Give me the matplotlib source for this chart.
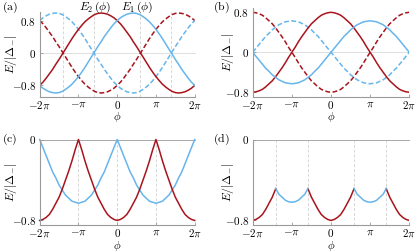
import matplotlib
matplotlib.use("Agg")
import matplotlib.pyplot as plt
import numpy as np

plt.rcParams["mathtext.fontset"] = "cm"
plt.rcParams["font.family"] = ["DejaVu Serif"]

# ---------------- data (phi in units of pi) ----------------
phi_grid = np.linspace(-2, 2, 49)

# panel (a): E1, E2 (solid); dashed are the mirrored branches
red_a = [-0.81, -0.73, -0.63, -0.52, -0.41, -0.28, -0.16, -0.03, 0.10, 0.23,
         0.36, 0.48, 0.59, 0.69, 0.78, 0.85, 0.91, 0.96, 0.99, 1.00,
         0.99, 0.97, 0.93, 0.88, 0.81, 0.73, 0.63, 0.52, 0.41, 0.28,
         0.16, 0.03, -0.10, -0.23, -0.36, -0.48, -0.59, -0.69, -0.78, -0.85,
         -0.91, -0.96, -0.99, -1.00, -0.99, -0.97, -0.93, -0.88, -0.81]
blue_a = [-0.81, -0.88, -0.93, -0.97, -0.99, -1.00, -0.99, -0.96, -0.91, -0.85,
          -0.78, -0.69, -0.59, -0.48, -0.36, -0.23, -0.10, 0.03, 0.16, 0.28,
          0.41, 0.52, 0.63, 0.73, 0.81, 0.88, 0.93, 0.97, 0.99, 1.00,
          0.99, 0.96, 0.91, 0.85, 0.78, 0.69, 0.59, 0.48, 0.36, 0.23,
          0.10, -0.03, -0.16, -0.28, -0.41, -0.52, -0.63, -0.73, -0.81]

# panel (b)
red_b = [-0.80, -0.79, -0.77, -0.74, -0.69, -0.63, -0.57, -0.49, -0.40, -0.31,
         -0.21, -0.10, 0.00, 0.10, 0.21, 0.31, 0.40, 0.49, 0.57, 0.63,
         0.69, 0.74, 0.77, 0.79, 0.80, 0.79, 0.77, 0.74, 0.69, 0.63,
         0.57, 0.49, 0.40, 0.31, 0.21, 0.10, 0.00, -0.10, -0.21, -0.31,
         -0.40, -0.49, -0.57, -0.63, -0.69, -0.74, -0.77, -0.79, -0.80]
blue_b = [0.00, -0.08, -0.16, -0.24, -0.32, -0.38, -0.45, -0.50, -0.55, -0.58,
          -0.61, -0.62, -0.63, -0.62, -0.61, -0.58, -0.55, -0.50, -0.45, -0.38,
          -0.32, -0.24, -0.16, -0.08, 0.00, 0.08, 0.16, 0.24, 0.32, 0.38,
          0.45, 0.50, 0.55, 0.58, 0.61, 0.62, 0.63, 0.62, 0.61, 0.58,
          0.55, 0.50, 0.45, 0.38, 0.32, 0.24, 0.16, 0.08, 0.00]

# panel (c)
red_c = [-0.80, -0.79, -0.77, -0.74, -0.69, -0.63, -0.57, -0.49, -0.40, -0.31,
         -0.21, -0.10, 0.00, -0.10, -0.21, -0.31, -0.40, -0.49, -0.57, -0.63,
         -0.69, -0.74, -0.77, -0.79, -0.80, -0.79, -0.77, -0.74, -0.69, -0.63,
         -0.57, -0.49, -0.40, -0.31, -0.21, -0.10, 0.00, -0.10, -0.21, -0.31,
         -0.40, -0.49, -0.57, -0.63, -0.69, -0.74, -0.77, -0.79, -0.80]
blue_c = [0.00, -0.08, -0.16, -0.24, -0.32, -0.38, -0.45, -0.50, -0.55, -0.58,
          -0.61, -0.62, -0.63, -0.62, -0.61, -0.58, -0.55, -0.50, -0.45, -0.38,
          -0.32, -0.24, -0.16, -0.08, 0.00, -0.08, -0.16, -0.24, -0.32, -0.38,
          -0.45, -0.50, -0.55, -0.58, -0.61, -0.62, -0.63, -0.62, -0.61, -0.58,
          -0.55, -0.50, -0.45, -0.38, -0.32, -0.24, -0.16, -0.08, 0.00]

# panel (d): lower branch, split into red / blue pieces
d_red_phi = [[-2.0, -23/12, -22/12, -21/12, -20/12, -19/12, -18/12, -1.41],
             [-0.59, -6/12, -5/12, -4/12, -3/12, -2/12, -1/12, 0.0,
              1/12, 2/12, 3/12, 4/12, 5/12, 6/12, 0.59],
             [1.41, 18/12, 19/12, 20/12, 21/12, 22/12, 23/12, 2.0]]
d_red_val = [[-0.80, -0.79, -0.77, -0.74, -0.69, -0.63, -0.57, -0.485],
             [-0.485, -0.57, -0.63, -0.69, -0.74, -0.77, -0.79, -0.80,
              -0.79, -0.77, -0.74, -0.69, -0.63, -0.57, -0.485],
             [-0.485, -0.57, -0.63, -0.69, -0.74, -0.77, -0.79, -0.80]]
d_blue_phi = [[-1.41, -16/12, -15/12, -14/12, -13/12, -1.0, -11/12, -10/12, -9/12, -8/12, -0.59],
              [0.59, 8/12, 9/12, 10/12, 11/12, 1.0, 13/12, 14/12, 15/12, 16/12, 1.41]]
d_blue_val = [[-0.485, -0.54, -0.57, -0.60, -0.615, -0.62, -0.615, -0.60, -0.57, -0.54, -0.485],
              [-0.485, -0.54, -0.57, -0.60, -0.615, -0.62, -0.615, -0.60, -0.57, -0.54, -0.485]]

x_ticks = [-2, -1, 0, 1, 2]
x_ticklabels = [r"$-2\pi$", r"$-\pi$", r"$0$", r"$\pi$", r"$2\pi$"]
grid_a = [-1.4, -0.6, 0.6, 1.4]
grid_c = [-1.0, 0.0, 1.0]
grid_d = [-1.41, -0.59, 0.59, 1.41]

RED = "#a8141c"
BLUE = "#66b5ec"
SPINE = "#9a9a9a"
DASH = (0, (3.2, 1.6))

W, H = 415, 252
fig = plt.figure(figsize=(W / 100, H / 100), dpi=100)


def add_ax(l, r, t, b):
    return fig.add_axes([l / W, 1 - b / H, (r - l) / W, (b - t) / H])


def style(ax, ylim, yticks, yticklabels, zero_col):
    ax.set_xlim(-2, 2)
    ax.set_ylim(*ylim)
    for s in ("top", "right"):
        ax.spines[s].set_visible(False)
    for s in ("left", "bottom"):
        ax.spines[s].set_color(SPINE)
        ax.spines[s].set_linewidth(0.8)
    ax.set_xticks(x_ticks)
    ax.set_xticklabels(x_ticklabels)
    ax.set_yticks(yticks)
    ax.set_yticklabels(yticklabels)
    ax.tick_params(direction="in", length=2.0, width=0.6, color=SPINE,
                   labelsize=8, pad=2.5)
    ax.tick_params(axis="x", pad=2.0)
    ax.axhline(0, color=zero_col, lw=0.7, zorder=0.5, clip_on=False)


ax_a = add_ax(39.7, 194.7, 12.0, 96.5)
ax_b = add_ax(252.7, 409.3, 8.3, 96.7)
ax_c = add_ax(39.7, 194.7, 139.5, 224.5)
ax_d = add_ax(252.7, 409.3, 139.5, 224.5)

style(ax_a, (-1.0875, 1.025), [-0.8, 0, 0.8], [r"$-0.8$", r"$0$", r"$0.8$"], "#dedede")
style(ax_b, (-0.888, 0.88), [-0.8, 0, 0.8], [r"$-0.8$", r"$0$", r"$0.8$"], "#dedede")
style(ax_c, (-0.84, 0.0), [-0.8, 0], [r"$-0.8$", r"$0$"], "#a8a8a8")
style(ax_d, (-0.84, 0.0), [-0.8, 0], [r"$-0.8$", r"$0$"], "#a8a8a8")

for ax, g in ((ax_a, grid_a), (ax_c, grid_c), (ax_d, grid_d)):
    for gx in g:
        ax.axvline(gx, color="#d6d6d6", lw=0.7, ls=(0, (3, 2)), zorder=0.4)

lw = 1.1
# (a)
ax_a.plot(phi_grid, -np.array(red_a), color=RED, lw=lw, ls=DASH)
ax_a.plot(phi_grid, -np.array(blue_a), color=BLUE, lw=lw, ls=DASH)
ax_a.plot(phi_grid, red_a, color=RED, lw=lw)
ax_a.plot(phi_grid, blue_a, color=BLUE, lw=lw)
# (b)
ax_b.plot(phi_grid, -np.array(red_b), color=RED, lw=lw, ls=DASH)
ax_b.plot(phi_grid, -np.array(blue_b), color=BLUE, lw=lw, ls=DASH)
ax_b.plot(phi_grid, red_b, color=RED, lw=lw)
ax_b.plot(phi_grid, blue_b, color=BLUE, lw=lw)
# (c)
ax_c.plot(phi_grid, blue_c, color=BLUE, lw=lw, clip_on=False)
ax_c.plot(phi_grid, red_c, color=RED, lw=lw, clip_on=False)
# (d)
for px, py in zip(d_red_phi, d_red_val):
    ax_d.plot(px, py, color=RED, lw=lw)
for px, py in zip(d_blue_phi, d_blue_val):
    ax_d.plot(px, py, color=BLUE, lw=lw)


def ftext(x, y, s, size, rot=0):
    fig.text(x / W, 1 - y / H, s, fontsize=size, ha="center", va="center",
             rotation=rot)


ylab = r"$E/|\Delta_{-}|$"
for (px, py) in ((11, 54), (228, 52), (11, 182), (228, 182)):
    ftext(px, py, ylab, 8.5, rot=90)
for (px, py) in ((117.2, 117.5), (331, 117.5), (117.2, 246.0), (331, 246.0)):
    ftext(px, py, r"$\phi$", 8)
for (px, py, s) in ((10, 7.5, "(a)"), (221, 7.5, "(b)"), (10, 139, "(c)"), (221, 139, "(d)")):
    ftext(px, py, r"$\mathrm{" + s + "}$", 8.5)

ftext(95, 7.5, r"$E_2\,(\phi)$", 8.5)
ftext(137.5, 7.5, r"$E_1\,(\phi)$", 8.5)

fig.savefig("out.png", dpi=100)
